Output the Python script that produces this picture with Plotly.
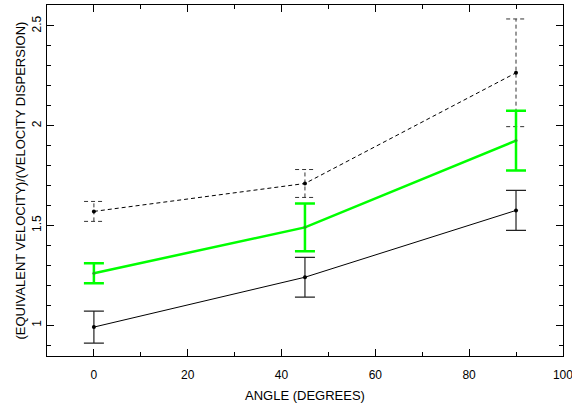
import plotly.graph_objects as go

angles = [0, 45, 90]
solid_y = [0.99, 1.24, 1.575]
solid_err = [0.08, 0.10, 0.10]
green_y = [1.26, 1.49, 1.925]
green_err = [0.05, 0.12, 0.15]
dashed_y = [1.57, 1.71, 2.265]
dashed_err = [0.05, 0.07, 0.27]

x_ticks = [0, 20, 40, 60, 80, 100]
y_ticks = [1, 1.5, 2, 2.5]
y_tick_text = ["1", "1.5", "2", "2.5"]

FONT = "Liberation Sans"
cap_half = 2.1  # half cap width in x data units

fig = go.Figure()

# dashed error bars built from data arrays
ex, ey = [], []
for a, v, e in zip(angles, dashed_y, dashed_err):
    ex += [a, a, None, a - cap_half, a + cap_half, None, a - cap_half, a + cap_half, None]
    ey += [v - e, v + e, None, v + e, v + e, None, v - e, v - e, None]
fig.add_trace(go.Scatter(x=ex, y=ey, mode="lines",
                         line=dict(color="#333333", width=1, dash="4px,3px"),
                         hoverinfo="skip", showlegend=False))
fig.add_trace(go.Scatter(x=angles, y=dashed_y, mode="lines+markers",
                         line=dict(color="black", width=1, dash="4px,3px"),
                         marker=dict(color="black", size=4), showlegend=False))

fig.add_trace(go.Scatter(x=angles, y=solid_y, mode="lines+markers",
                         line=dict(color="black", width=1),
                         marker=dict(color="black", size=4),
                         error_y=dict(type="data", array=solid_err, color="#222222",
                                      thickness=1.2, width=10),
                         showlegend=False))

fig.add_trace(go.Scatter(x=angles, y=green_y, mode="lines+markers",
                         line=dict(color="#00ff00", width=2.5),
                         marker=dict(color="#22aa22", size=3),
                         error_y=dict(type="data", array=green_err, color="#00ff00",
                                      thickness=2.5, width=10),
                         showlegend=False))

axis_common = dict(showline=True, linecolor="black", linewidth=1, mirror="ticks",
                   ticks="inside", ticklen=7, tickcolor="black", showgrid=False,
                   zeroline=False, automargin=False, ticklabeloverflow="allow",
                   tickfont=dict(family=FONT, size=12, color="black"))

fig.update_xaxes(range=[-10, 100.02], tickvals=x_ticks, ticklabelstandoff=8,
                 minor=dict(ticks="inside", ticklen=4, dtick=10, tick0=0, tickcolor="black"),
                 **axis_common)
fig.update_yaxes(range=[0.845, 2.605], tickvals=y_ticks, ticktext=y_tick_text,
                 tickangle=-90, ticklabelstandoff=0,
                 minor=dict(ticks="inside", ticklen=4, dtick=0.1, tick0=0, tickcolor="black"),
                 **axis_common)

fig.add_annotation(text="ANGLE (DEGREES)", xref="paper", yref="paper", x=0.5, y=0,
                   xanchor="center", yanchor="middle", yshift=-39, showarrow=False,
                   font=dict(family=FONT, size=13, color="black"))
fig.add_annotation(text="(EQUIVALENT VELOCITY)/(VELOCITY DISPERSION)", xref="paper", yref="paper",
                   x=0, y=0.5, xanchor="center", yanchor="middle", xshift=-27, textangle=-90,
                   showarrow=False, font=dict(family=FONT, size=13, color="black"))

fig.update_layout(width=572, height=404, margin=dict(l=47, r=9, t=5, b=48),
                  paper_bgcolor="white", plot_bgcolor="white")

fig.write_html("out.html")
